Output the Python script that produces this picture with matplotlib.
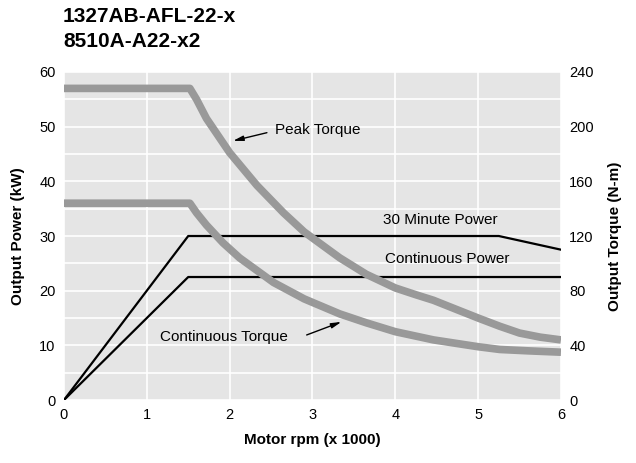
import numpy as np
import matplotlib.pyplot as plt
from matplotlib.ticker import MultipleLocator

plt.rcParams['font.family'] = ['Liberation Sans Narrow', 'Liberation Sans', 'DejaVu Sans']

# speed in x1000 rpm
rpm_peak = [0, 1.52, 1.6, 1.72, 2.0, 2.33, 2.65, 2.9, 3.33, 3.65, 4.0, 4.25, 4.46,
            4.75, 5.0, 5.26, 5.5, 5.75, 6.0]
peak_torque = [228, 228, 220, 206, 181, 157, 137, 123, 104, 92, 82, 77, 73,
               66, 60, 54, 49, 46, 44]   # N-m
rpm_cont = [0, 1.52, 1.6, 1.72, 1.92, 2.12, 2.53, 2.9, 3.33, 3.65, 4.0, 4.46,
            5.0, 5.26, 5.6, 6.0]
cont_torque = [144, 144, 137, 128, 115, 104, 86, 74, 63, 56.5, 50, 44,
               39, 37, 36, 35]           # N-m

rpm_30min = [0, 1.5, 5.25, 6.0]
power_30min = [0, 30, 30, 27.5]   # kW
rpm_contp = [0, 1.5, 6.0]
power_cont = [0, 22.5, 22.5]      # kW

fig = plt.figure(figsize=(6.36, 4.63), dpi=100)
ax = fig.add_axes([0.1006, 0.136, 0.7814, 0.7085])
ax2 = ax.twinx()

ax.set_facecolor('#e5e5e5')
ax.set_xlim(0, 6)
ax.set_ylim(0, 60)
ax.yaxis.set_major_locator(MultipleLocator(10))
ax.yaxis.set_minor_locator(MultipleLocator(5))
ax.xaxis.set_major_locator(MultipleLocator(1))
ax.set_axisbelow(True)
ax.grid(True, which='both', color='white', lw=1.2)
ax.plot(rpm_30min, power_30min, color='black', lw=1.6)
ax.plot(rpm_contp, power_cont, color='black', lw=1.6)

ax2.set_ylim(0, 240)
ax2.yaxis.set_major_locator(MultipleLocator(40))
ax2.plot(rpm_peak, peak_torque, color='#999999', lw=5.5,
         solid_capstyle='butt', solid_joinstyle='round')
ax2.plot(rpm_cont, cont_torque, color='#999999', lw=5.5,
         solid_capstyle='butt', solid_joinstyle='round')

for a in (ax, ax2):
    for s in a.spines.values():
        s.set_visible(False)
    a.tick_params(which='both', length=0, labelsize=10.5, pad=6)

ax.set_ylabel('Output Power (kW)', fontsize=11, fontweight='bold', labelpad=10)
ax2.set_ylabel('Output Torque (N-m)', fontsize=11, fontweight='bold', labelpad=10)
ax.set_xlabel('Motor rpm (x 1000)', fontsize=11, fontweight='bold', labelpad=8)

arrow = dict(arrowstyle='-|>,head_length=0.6,head_width=0.15', color='black', lw=1,
             shrinkA=0, shrinkB=0)
ax.text(2.55, 49.3, 'Peak Torque', fontsize=11, va='center')
ax.annotate('', xy=(2.04, 47.4), xytext=(2.45, 48.9), arrowprops=arrow)
ax.text(1.16, 11.6, 'Continuous Torque', fontsize=11, va='center')
ax.annotate('', xy=(3.35, 14.3), xytext=(2.93, 11.9), arrowprops=arrow)
ax.text(3.85, 32.9, '30 Minute Power', fontsize=11, va='center')
ax.text(3.88, 25.8, 'Continuous Power', fontsize=11, va='center')

fig.text(0.099, 0.965, '1327AB-AFL-22-x', fontsize=15, fontweight='bold', va='center')
fig.text(0.099, 0.91, '8510A-A22-x2', fontsize=15, fontweight='bold', va='center')

fig.savefig('out.png', dpi=100)
